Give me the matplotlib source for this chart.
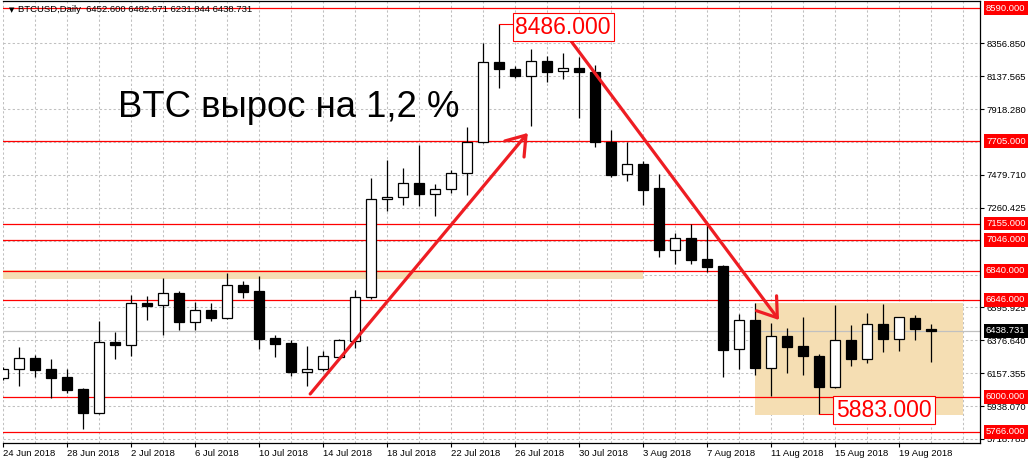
import numpy as np
import pandas as pd
import matplotlib
matplotlib.use('Agg')
import matplotlib.pyplot as plt
from matplotlib.patches import Rectangle
from matplotlib.transforms import blended_transform_factory

# daily BTCUSD candles, 24 Jun 2018 .. 21 Aug 2018
dates = pd.date_range('2018-06-24', '2018-08-21', freq='D')
opens = [6123, 6185, 6259, 6185, 6132, 6052, 5894, 6365, 6347, 6625,
         6610, 6692, 6501, 6577, 6527, 6745, 6705, 6392, 6357, 6167,
         6183, 6267, 6374, 6663, 7317, 7334, 7423, 7350, 7387, 7490,
         7701, 8230, 8183, 8141, 8239, 8172, 8194, 8167, 7701, 7483,
         7552, 7392, 6981, 7057, 6919, 6872, 6317, 6512, 6190, 6405,
         6339, 6272, 6067, 6379, 6254, 6485, 6385, 6525, 6452.600]
highs = [6199, 6332, 6279, 6252, 6185, 6058, 6505, 6432, 6679, 6672,
         6792, 6705, 6632, 6625, 6823, 6772, 6805, 6412, 6379, 6339,
         6307, 6385, 6712, 7457, 7579, 7523, 7679, 7419, 7512, 7801,
         8357, 8486, 8205, 8317, 8272, 8290, 8267, 8212, 7779, 7701,
         7574, 7483, 7092, 7152, 7150, 6879, 6552, 6627, 6490, 6457,
         6534, 6285, 6612, 6479, 6557, 6619, 6535, 6547, 6482.671]
lows = [6112, 6074, 6134, 5994, 6025, 5785, 5888, 6254, 6272, 6512,
        6414, 6445, 6445, 6507, 6521, 6661, 6319, 6267, 6139, 6074,
        6172, 6259, 6327, 6650, 7241, 7279, 7274, 7207, 7357, 7345,
        7694, 8061, 8123, 7805, 8101, 8117, 7857, 7667, 7467, 7441,
        7279, 6934, 6887, 6885, 6834, 6130, 6185, 6145, 6005, 6161,
        6147, 5883, 6060, 6207, 6227, 6301, 6307, 6379, 6231.844]
closes = [6183, 6257, 6181, 6127, 6047, 5894, 6363, 6347, 6623, 6607,
          6690, 6501, 6577, 6527, 6743, 6701, 6385, 6354, 6167, 6183,
          6272, 6377, 6663, 7317, 7334, 7423, 7350, 7387, 7490, 7701,
          8230, 8183, 8141, 8239, 8167, 8194, 8163, 7701, 7479, 7550,
          7379, 6981, 7057, 6912, 6867, 6312, 6510, 6190, 6405, 6334,
          6274, 6067, 6379, 6254, 6485, 6385, 6530, 6452, 6438.731]

red_levels = [8590, 7705, 7155, 7046, 6840, 6646, 6000, 5766]
grid_levels = [8356.85, 8137.565, 7918.28, 7698.995, 7479.71, 7260.425,
               7041.14, 6815.21, 6595.925, 6376.64, 6157.355, 5938.07, 5718.785]
axis_labels = [8356.85, 8137.565, 7918.28, 7479.71, 7260.425,
               6595.925, 6376.64, 6157.355, 5938.07, 5718.785]
last_price = 6438.731
top_price = 8486
bottom_price = 5883

red = '#ff0000'
arrow_red = '#ee1d23'
grid_c = '#c0c0c0'
font = 'Liberation Sans'

fig = plt.figure(figsize=(10.29, 4.63), dpi=100)
ax = fig.add_axes([3 / 1029, 20 / 463, 977 / 1029, 442 / 463])
ax.set_xlim(0, 977 / 16)
ax.set_ylim(5692, 8638.8)

x = np.arange(len(dates))
o = np.array(opens, float)
h = np.array(highs, float)
l = np.array(lows, float)
c = np.array(closes, float)

# grid
for g in grid_levels:
    ax.axhline(g, color=grid_c, lw=0.75, dashes=(2.2, 2.2), zorder=0.5)
for d in range(0, 61, 2):
    ax.axvline(d, color=grid_c, lw=0.75, dashes=(2.2, 2.2), zorder=0.5)

# zones
ax.add_patch(Rectangle((0, 6785), 40, 60, facecolor='#f5deb3', edgecolor='none', zorder=1))
ax.add_patch(Rectangle((47, 5879), 13, 746, facecolor='#f5deb3', edgecolor='none', zorder=1))

# levels
for lv in red_levels:
    ax.axhline(lv, color=red, lw=0.9, zorder=2)
ax.axhline(last_price, color=grid_c, lw=0.9, zorder=2)

# candles
up = c >= o
lo = np.minimum(o, c)
hgt = np.maximum(np.abs(c - o), 8)
ax.vlines(x, l, h, color='black', lw=0.9, zorder=3)
ax.bar(x, hgt, bottom=lo, width=0.62, color=np.where(up, 'white', 'black'),
       edgecolor='black', linewidth=0.9, zorder=4)

# arrows
arrow_kw = dict(arrowstyle='->,head_length=13,head_width=9', mutation_scale=1,
                lw=2.3, color=arrow_red, shrinkA=0, shrinkB=0)
ax.annotate('', xy=(32.8, 7759), xytext=(19.2, 6019), arrowprops=arrow_kw, zorder=6)
ax.annotate('', xy=(48.5, 6512), xytext=(35.5, 8372), arrowprops=arrow_kw, zorder=6)

# text
ax.text(7.2, 7863, 'BTC вырос на 1,2 %', fontsize=26.3, family=font,
        va='baseline', ha='left', zorder=7)

ax.plot([31, 31.8], [top_price, top_price], color=red, lw=0.8, zorder=5)
ax.text(35.0, 8465, '%.3f' % top_price, fontsize=16.5, family=font, color=red,
        ha='center', va='center', zorder=7,
        bbox=dict(boxstyle='square,pad=0.12', fc='white', ec=red, lw=0.8))
ax.plot([51, 51.9], [bottom_price, bottom_price], color=red, lw=0.8, zorder=5)
ax.text(55.06, 5912, '%.3f' % bottom_price, fontsize=16.5, family=font, color=red,
        ha='center', va='center', zorder=7,
        bbox=dict(boxstyle='square,pad=0.12', fc='white', ec=red, lw=0.8))

# header
ax.text(6 / 977, 1 - 9 / 442, '▼', transform=ax.transAxes, fontsize=5,
        va='center', ha='left', family='DejaVu Sans')
ax.text(15 / 977, 1 - 9 / 442, 'BTCUSD,Daily  6452.600 6482.671 6231.844 6438.731',
        transform=ax.transAxes, fontsize=6.8, family=font, va='center', ha='left')

# axes
ax.spines['left'].set_visible(False)
for s in ['top', 'right', 'bottom']:
    ax.spines[s].set_linewidth(0.9)
ax.yaxis.tick_right()
ax.set_yticks(axis_labels)
ax.set_yticklabels(['%.3f' % v for v in axis_labels], family=font, fontsize=6.8)
ax.tick_params(axis='y', length=3, width=0.8, pad=1.5)

tick_days = x[::4]
ax.set_xticks(tick_days)
ax.set_xticklabels([f'{d.day} {d.strftime("%b %Y")}' for d in dates[::4]],
                   family=font, fontsize=6.8, ha='left')
ax.tick_params(axis='x', length=3, width=0.8, pad=1.5)

tr = blended_transform_factory(ax.transAxes, ax.transData)
for lv in red_levels:
    ax.text(1 + 6 / 977, lv, '%.3f' % lv, transform=tr, fontsize=6.8, family=font,
            color='white', va='center', ha='left', clip_on=False, zorder=8,
            bbox=dict(boxstyle='square,pad=0.25', fc=red, ec='none'))
ax.text(1 + 6 / 977, last_price, '%.3f' % last_price, transform=tr, fontsize=6.8,
        family=font, color='white', va='center', ha='left', clip_on=False, zorder=8,
        bbox=dict(boxstyle='square,pad=0.25', fc='black', ec='none'))

fig.savefig('out.png', dpi=100)
